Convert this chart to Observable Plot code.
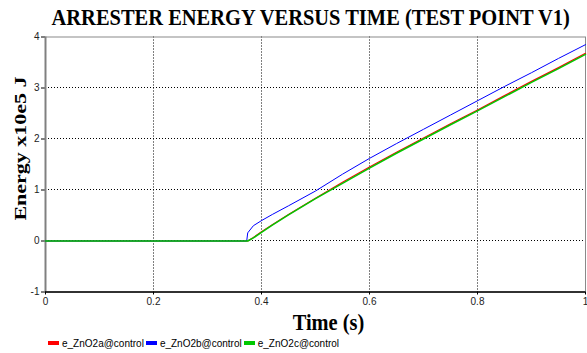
<!DOCTYPE html>
<html>
<head>
<meta charset="utf-8">
<script src="https://cdn.jsdelivr.net/npm/d3@7"></script>
<script src="https://cdn.jsdelivr.net/npm/@observablehq/plot@0.6"></script>
<style>
  html, body { margin: 0; padding: 0; background: #fff; }
  body { width: 587px; height: 353px; overflow: hidden; position: relative; }
  #title { position: absolute; left: 0; top: 0; width: 587px; height: 30px; line-height: 40px; text-align: center; white-space: nowrap; color: #000; }
  #title span { display: inline-block; font: bold 23px "Liberation Serif", "Times New Roman", serif; transform: translateX(17.5px) scaleX(0.89); transform-origin: center; }
  #chart { position: absolute; left: 0; top: 30px; }
  #legend { position: absolute; left: 0; top: 336px; height: 14px; display: flex; align-items: center; padding-left: 48px; font: 10px "Liberation Sans", Arial, sans-serif; color: #000; }
  .item { display: flex; align-items: center; margin-right: 2px; }
  .sw { width: 11px; height: 4px; margin-right: 3px; }
  svg { display: block; }
</style>
</head>
<body>
<div id="title"><span></span></div>
<div id="chart"></div>
<div id="legend"></div>
<script>
const titleText = "ARRESTER ENERGY VERSUS TIME (TEST POINT V1)";
const xLabel = "Time (s)";
const yLabel = "Energy x10e5 J";
const seriesNames = ["e_ZnO2a@control", "e_ZnO2b@control", "e_ZnO2c@control"];
const seriesColors = ["#ff0000", "#0000ff", "#00c800"];
const xTicks = [0, 0.2, 0.4, 0.6, 0.8, 1];
const yTicks = [-1, 0, 1, 2, 3, 4];
const xGrid = [0.2, 0.4, 0.6, 0.8];
const yGrid = [0, 1, 2, 3];

const time    = [0, 0.3726, 0.3745, 0.385, 0.40, 0.42, 0.45, 0.50, 0.55, 0.60, 0.65, 0.70, 0.75, 0.80, 0.85, 0.90, 0.95, 1.0];
const energyA = [0, 0, 0, 0.07, 0.18, 0.32, 0.52, 0.84, 1.15, 1.45, 1.74, 2.02, 2.30, 2.57, 2.85, 3.13, 3.40, 3.68];
const energyB = [0, 0, 0.16, 0.30, 0.40, 0.52, 0.69, 0.98, 1.31, 1.62, 1.91, 2.19, 2.47, 2.75, 3.03, 3.30, 3.58, 3.85];
const energyC = [0, 0, 0, 0.06, 0.17, 0.31, 0.51, 0.83, 1.13, 1.43, 1.72, 2.00, 2.28, 2.55, 2.83, 3.11, 3.38, 3.66];

const allSeries = [energyA, energyB, energyC];
const seriesData = allSeries.map((vals, i) => vals.map((v, j) => ({series: seriesNames[i], t: time[j], e: v})));

document.querySelector("#title span").textContent = titleText;

const sans = "'Liberation Sans', Arial, sans-serif";
const serif = "'Liberation Serif', 'Times New Roman', serif";

const chart = Plot.plot({
  width: 587,
  height: 323,
  marginTop: 6.5,
  marginBottom: 61.5,
  marginLeft: 45,
  marginRight: 2,
  style: {fontFamily: sans, fontSize: "10px", color: "#222", background: "#fff"},
  x: {domain: [0, 1], label: null},
  y: {domain: [-1, 4], label: null},
  marks: [
    Plot.gridX(xGrid, {stroke: "#000", strokeOpacity: 1, strokeDasharray: "1,2"}),
    Plot.gridY(yGrid, {stroke: "#000", strokeOpacity: 1, strokeDasharray: "1,2", dy: -0.5}),
    Plot.frame({stroke: "#8a8a8a", strokeWidth: 1}),
    Plot.axisX(xTicks, {tickSize: 3, tickFormat: d => String(d), tickPadding: 3, stroke: "#000"}),
    Plot.axisY(yTicks, {tickSize: 4, tickFormat: d => String(d), tickPadding: 2, stroke: "#000"}),
    Plot.ruleX([0], {stroke: "#808080", strokeWidth: 2}),
    Plot.ruleY([-1], {stroke: "#000", strokeWidth: 1.5}),
    Plot.line(seriesData[0], {x: "t", y: "e", stroke: seriesColors[0], strokeWidth: 1.2}),
    Plot.line(seriesData[1], {x: "t", y: "e", stroke: seriesColors[1], strokeWidth: 1}),
    Plot.line(seriesData[2], {x: "t", y: "e", stroke: seriesColors[2], strokeWidth: 1.5}),
    Plot.text([xLabel], {text: d => d, frameAnchor: "bottom", dx: 13, dy: 30, lineAnchor: "middle", fontFamily: serif, fontWeight: "bold", fontSize: 24, fill: "#000"}),
    Plot.text([yLabel], {text: d => d, frameAnchor: "left", dx: -25, dy: -16, rotate: -90, textAnchor: "middle", lineAnchor: "middle", fontFamily: serif, fontWeight: "bold", fontSize: 22, fill: "#000"})
  ]
});
document.getElementById("chart").appendChild(chart);

// Narrow the axis titles horizontally (screen x), as in the reference image
function squeeze(label, sx) {
  const svgRect = chart.getBoundingClientRect();
  chart.querySelectorAll("text").forEach(el => {
    if (el.textContent !== label) return;
    const r = el.getBoundingClientRect();
    const parent = el.parentNode;
    const m = parent.getCTM();
    const cx = (r.left + r.width / 2 - svgRect.left - (m ? m.e : 0)) / (m ? m.a : 1);
    const g = document.createElementNS("http://www.w3.org/2000/svg", "g");
    g.setAttribute("transform", `translate(${cx},0) scale(${sx},1) translate(${-cx},0)`);
    parent.insertBefore(g, el);
    g.appendChild(el);
  });
}
squeeze(xLabel, 0.85);
squeeze(yLabel, 0.75);

const legend = document.getElementById("legend");
seriesNames.forEach((name, i) => {
  const item = document.createElement("div");
  item.className = "item";
  const sw = document.createElement("div");
  sw.className = "sw";
  sw.style.background = seriesColors[i];
  const label = document.createElement("span");
  label.textContent = name;
  item.appendChild(sw);
  item.appendChild(label);
  legend.appendChild(item);
});
</script>
</body>
</html>
